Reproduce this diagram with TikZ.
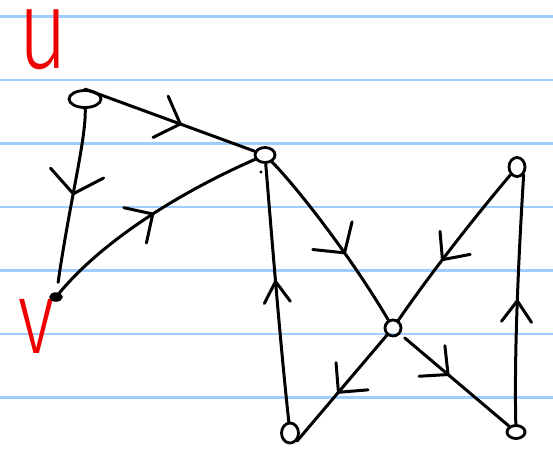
\documentclass[tikz,border=0pt]{standalone}
\usepackage{fontspec}
\newfontfamily\handfont{Fira Sans}[UprightFont=* Light]
\usetikzlibrary{arrows.meta,decorations.markings,shapes.geometric}
\definecolor{ruling}{RGB}{160,205,255}
\definecolor{ink}{RGB}{0,0,0}
\definecolor{redink}{RGB}{240,0,0}
\tikzset{
  rule/.style={ruling, line width=2.4pt},
  vertex/.style={ellipse, draw=ink, line width=2.8pt, inner sep=0pt},
  dotvertex/.style={ellipse, draw=ink, fill=ink, line width=1.5pt, inner sep=0pt},
  edge/.style={ink, line width=3pt, line cap=round},
  midarrow/.style 2 args={postaction={decorate}, decoration={markings,
      mark=at position #1 with {\arrow{Straight Barb[length=21pt, width=#2, line width=3pt, round]}}}},
  letter/.style={redink, inner sep=0pt, font=\handfont\fontsize{90}{90}\selectfont}
}
\begin{document}
\begin{tikzpicture}[x=1pt, y=-1pt]
  \useasboundingbox (0,0) rectangle (553,448);
  \fill[white] (0,0) rectangle (553,448);
  % ruled paper
  \foreach \k in {0,...,6}
    \draw[rule] (0,16.5+63.5*\k) -- (553,16.5+63.5*\k);

  % red labels
  \node[letter, xscale=0.95, yscale=1.25] (lu) at (43,40) {u};
  \node[letter, xscale=0.85, yscale=1.15] (lv) at (36,326) {v};

  % vertices
  \node[vertex, minimum width=32pt, minimum height=17pt] (u) at (85,99) {};
  \node[vertex, minimum width=20pt, minimum height=15pt] (x) at (265,155) {};
  \node[dotvertex, minimum width=12pt, minimum height=8pt] (v) at (56,297) {};
  \node[vertex, minimum width=16pt, minimum height=16pt] (w) at (393,328) {};
  \node[vertex, minimum width=16pt, minimum height=19pt] (t) at (517,167) {};
  \node[vertex, minimum width=17pt, minimum height=20pt] (bl) at (290,433) {};
  \node[vertex, minimum width=18pt, minimum height=13pt] (br) at (516,432) {};
  \fill[ink] (261,172) circle (1.6pt);

  % edges
  \draw[edge, midarrow={0.57}{44pt}] (u.north) -- (x);
  \draw[edge, midarrow={0.47}{54pt}, shorten >=10pt] (u) .. controls (86,140) and (70,200) .. (v);
  \draw[edge, midarrow={0.52}{42pt}] (v) .. controls (105,238) and (185,190) .. (x);
  \draw[edge, midarrow={0.6}{48pt}] (x) .. controls (295,185) and (350,255) .. (w);
  \draw[edge, midarrow={0.55}{26pt}] (bl) .. controls (280,340) and (272,240) .. (x);
  \draw[edge, midarrow={0.55}{42pt}] (w) -- (bl.south east);
  \draw[edge, midarrow={0.6}{38pt}] (t) .. controls (485,205) and (440,260) .. (w);
  \draw[edge, midarrow={0.45}{40pt}, shorten <=6pt] (w) -- (br);
  \draw[edge, midarrow={0.5}{30pt}] (br) .. controls (514,350) and (519,250) .. (t.south east);
\end{tikzpicture}
\end{document}
